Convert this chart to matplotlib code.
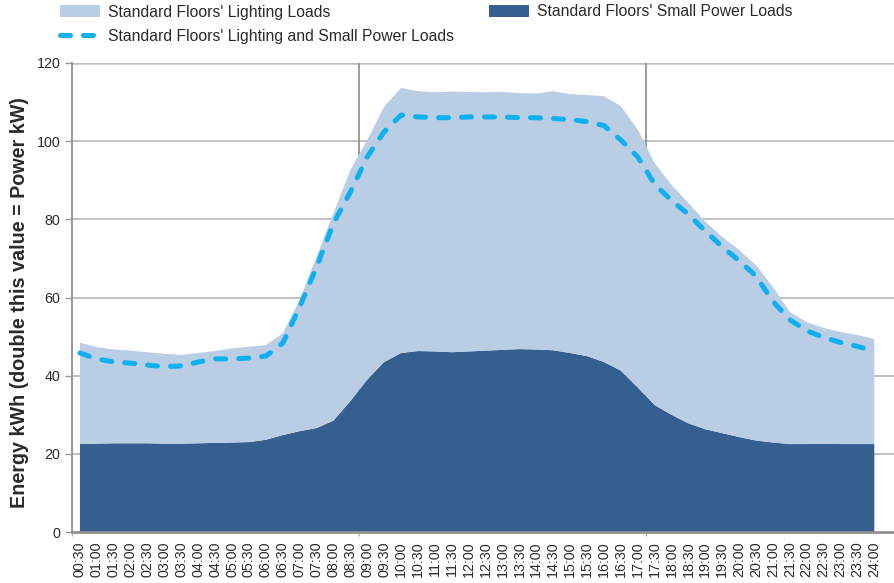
import matplotlib
matplotlib.use("Agg")
import matplotlib.pyplot as plt
import numpy as np
from matplotlib.patches import Patch
from matplotlib.lines import Line2D

plt.rcParams['font.family'] = ['Liberation Sans', 'DejaVu Sans']

times = ["00:30","01:00","01:30","02:00","02:30","03:00","03:30","04:00","04:30","05:00",
         "05:30","06:00","06:30","07:00","07:30","08:00","08:30","09:00","09:30","10:00",
         "10:30","11:00","11:30","12:00","12:30","13:00","13:30","14:00","14:30","15:00",
         "15:30","16:00","16:30","17:00","17:30","18:00","18:30","19:00","19:30","20:00",
         "20:30","21:00","21:30","22:00","22:30","23:00","23:30","24:00"]

small_power = [22.5, 22.6, 22.7, 22.7, 22.7, 22.6, 22.6, 22.7, 22.8, 22.9,
               23.0, 23.6, 24.8, 25.8, 26.6, 28.5, 33.5, 39.0, 43.5, 45.8,
               46.3, 46.2, 46.0, 46.2, 46.4, 46.6, 46.8, 46.7, 46.5, 45.8,
               45.0, 43.5, 41.3, 37.0, 32.5, 30.0, 27.8, 26.3, 25.3, 24.3,
               23.4, 22.9, 22.5, 22.5, 22.6, 22.5, 22.5, 22.5]

lighting = [25.9, 24.7, 24.0, 23.7, 23.3, 23.0, 22.7, 23.1, 23.5, 24.1,
            24.4, 24.2, 26.0, 33.6, 43.8, 53.1, 59.1, 61.3, 65.3, 67.8,
            66.5, 66.3, 66.7, 66.4, 66.1, 66.0, 65.5, 65.5, 66.3, 66.2,
            66.8, 68.0, 67.7, 66.0, 61.9, 58.8, 56.4, 53.1, 50.2, 47.9,
            44.9, 39.8, 33.8, 31.2, 29.6, 28.7, 27.9, 26.9]

combined = [45.8, 44.3, 43.5, 43.2, 42.7, 42.3, 42.5, 43.5, 44.3, 44.3,
            44.5, 45.0, 48.3, 57.6, 67.8, 79.0, 87.0, 96.0, 102.4, 106.7,
            106.2, 106.0, 106.0, 106.2, 106.2, 106.2, 106.0, 106.0, 105.8, 105.5,
            105.0, 104.0, 100.3, 96.0, 89.0, 84.8, 81.3, 77.0, 73.0, 69.4,
            65.5, 59.0, 54.3, 51.5, 49.8, 48.5, 47.5, 46.3]

legend_labels = ["Standard Floors' Lighting Loads",
                 "Standard Floors' Small Power Loads",
                 "Standard Floors' Lighting and Small Power Loads"]
y_label = "Energy kWh (double this value = Power kW)"

LIGHT = "#b9cde5"
DARK = "#365f8f"
CYAN = "#10b0ee"
TXT = "#2a2a2a"

W, H = 894, 583
fig = plt.figure(figsize=(W/100, H/100), dpi=100)
ax = fig.add_axes([71.5/W, 51/H, (W-71.5)/W, 469/H])

x = np.arange(len(times))
ax.stackplot(x, small_power, lighting, colors=[DARK, LIGHT], linewidth=0, zorder=2)
ax.plot(x, combined, color=CYAN, lw=3.6, dashes=(2.0, 2.6), dash_capstyle='round', zorder=3)

ax.set_xlim(-0.5, (W-80)/16.9)
ax.set_ylim(0, 120)
ax.set_yticks(np.arange(0, 121, 20))
ax.set_xticks(x)
ax.set_xticklabels(times, rotation=90, fontsize=10.3, color=TXT)
ax.set_xticks(np.arange(-0.5, 48, 8.5), minor=True)
ax.tick_params(axis='x', which='major', length=0, pad=7)
ax.tick_params(axis='x', which='minor', length=3, width=1, color="#b0b0b0")
ax.tick_params(axis='y', length=5, width=1, color="#999999", labelsize=10.3,
               labelcolor=TXT, pad=3)

# gridlines
for yv in range(20, 121, 20):
    ax.axhline(yv, color="#c0c0c0", lw=1.8 if yv == 120 else 1.4, zorder=1)
for xv in (16.5, 33.5):
    ax.axvline(xv, color="#8c8c8c", lw=1.2, zorder=1)

for s in ('top', 'right'):
    ax.spines[s].set_visible(False)
ax.spines['left'].set_color("#999999")
ax.spines['left'].set_linewidth(1.5)
ax.spines['bottom'].set_color("#909090")
ax.spines['bottom'].set_linewidth(2.0)

fig.text(20/W, 1-302.5/H, y_label, rotation=90, ha='center', va='center',
         fontsize=14.2, fontweight='bold', color=TXT)

# legend
FS = 11.3
h1 = Patch(facecolor=LIGHT, edgecolor='none')
h2 = Patch(facecolor=DARK, edgecolor='none')
h3 = Line2D([0], [0], color=CYAN, lw=3.6, dashes=(2.0, 2.6), dash_capstyle='round')
common = dict(frameon=False, fontsize=FS, handlelength=2.55, handleheight=0.75,
              handletextpad=0.5, borderpad=0, borderaxespad=0, labelcolor=TXT)
fig.legend([h1], [legend_labels[0]], loc='center left',
           bbox_to_anchor=(60/W, 1-12/H), **common)
fig.legend([h2], [legend_labels[1]], loc='center left',
           bbox_to_anchor=(489/W, 1-12/H), **common)
fig.legend([h3], [legend_labels[2]], loc='center left',
           bbox_to_anchor=(60/W, 1-36/H), **common)

fig.savefig("out.png", dpi=100)
